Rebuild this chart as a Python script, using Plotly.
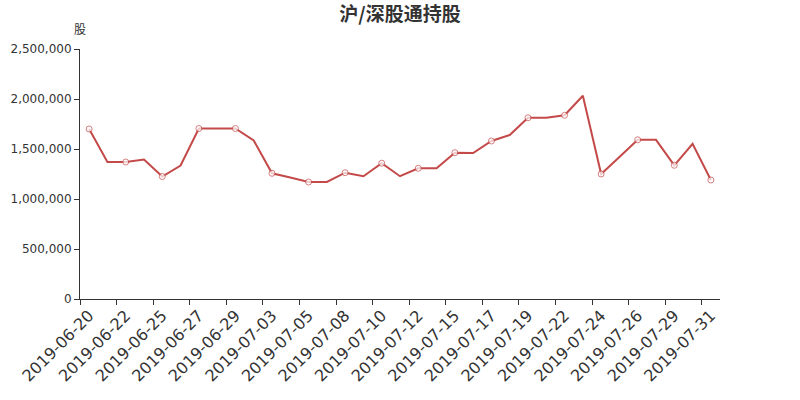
import plotly.graph_objects as go

dates = ["2019-06-20", "2019-06-21", "2019-06-22", "2019-06-24", "2019-06-25", "2019-06-26",
         "2019-06-27", "2019-06-28", "2019-06-29", "2019-07-02", "2019-07-03", "2019-07-04",
         "2019-07-05", "2019-07-06", "2019-07-08", "2019-07-09", "2019-07-10", "2019-07-11",
         "2019-07-12", "2019-07-13", "2019-07-15", "2019-07-16", "2019-07-17", "2019-07-18",
         "2019-07-19", "2019-07-20", "2019-07-22", "2019-07-23", "2019-07-24", "2019-07-25",
         "2019-07-26", "2019-07-27", "2019-07-29", "2019-07-30", "2019-07-31"]
holdings = [1700000, 1370000, 1370000, 1395000, 1225000, 1335000,
            1705000, 1705000, 1705000, 1585000, 1257000, 1215000,
            1170000, 1170000, 1263000, 1228000, 1358000, 1228000,
            1307000, 1307000, 1463000, 1460000, 1580000, 1640000,
            1812000, 1813000, 1837000, 2033000, 1250000, 1420000,
            1592000, 1592000, 1337000, 1552000, 1190000]

color = "#c44a4a"
sizes = [6 if i % 2 == 0 else 0 for i in range(len(dates))]
FONT = "DejaVu Sans"

fig = go.Figure()
fig.add_trace(go.Scatter(
    x=dates, y=holdings, mode="lines+markers",
    line=dict(color=color, width=2),
    marker=dict(size=sizes, color="white", line=dict(color=color, width=1)),
    showlegend=False,
))

fig.update_layout(
    width=800, height=400,
    margin=dict(l=80, r=80, t=49, b=101, autoexpand=False),
    plot_bgcolor="white", paper_bgcolor="white",
    font=dict(family=FONT, color="#333", size=12),
    title=dict(text="<b>沪/深股通持股</b>", x=0.5, xanchor="center", y=0.965, yanchor="middle",
               yref="container", font=dict(size=19, family="Noto Sans CJK SC", color="#333")),
)
fig.update_xaxes(
    type="category", tickson="boundaries", dtick=2, tickangle=-45, automargin=False,
    showline=True, linecolor="#333", linewidth=1, ticks="outside", ticklen=5, tickcolor="#333",
    showgrid=False, zeroline=False, tickfont=dict(size=16, color="#333", family=FONT),
    range=[-0.5, len(dates) - 0.5],
)
fig.update_yaxes(
    range=[0, 2500000], dtick=500000, tickformat=",d", automargin=False,
    showline=True, linecolor="#333", linewidth=1, ticks="outside", ticklen=5, tickcolor="#333",
    showgrid=False, zeroline=False, tickfont=dict(size=12, color="#333", family=FONT),
)
fig.add_annotation(text="股", xref="paper", yref="paper", x=0, y=1.08, showarrow=False,
                   xanchor="center", yanchor="middle",
                   font=dict(size=12, family="Noto Sans CJK SC", color="#333"))

fig.write_html("out.html", config={"displayModeBar": False},
               post_script="document.body.style.margin='0';")
